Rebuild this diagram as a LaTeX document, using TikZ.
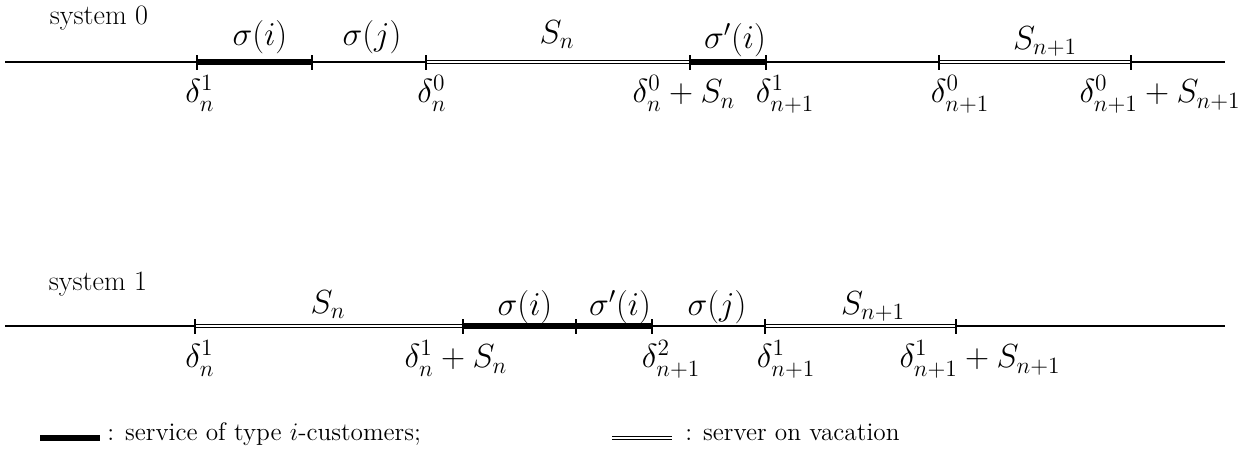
\RequirePackage{fix-cm}
\documentclass[tikz,border=0pt]{standalone}
\begin{document}
\begin{tikzpicture}[x=0.02cm,y=-0.02cm,
  every node/.style={font=\Large, inner sep=0pt},
  m/.style={font=\fontsize{19}{22}\selectfont},
  sysname/.style={font=\fontsize{16}{19}\selectfont},
  axis/.style={line width=0.8pt},
  busy/.style={line width=3pt},
  vac/.style={double, double distance=1.4pt, line width=0.5pt},
  tickmark/.style={line width=0.9pt},
  lab/.style={m, anchor=base}]
\useasboundingbox (0,0) rectangle (1245,455);

% ---------- system 0 ----------
\node[sysname] (sys0) at (99,18) {system 0};
\coordinate (L0) at (5,62);
\coordinate (R0) at (1225,62);
\coordinate (a1) at (197,62);
\coordinate (a2) at (312,62);
\coordinate (a3) at (426,62);
\coordinate (a4) at (690,62);
\coordinate (a5) at (766,62);
\coordinate (a6) at (939,62);
\coordinate (a7) at (1131,62);
\draw[axis] (L0) -- (R0);
\draw[busy] (a1) -- (a2);
\draw[busy] (a4) -- (a5);
\draw[vac] (a3) -- (a4);
\draw[vac] (a6) -- (a7);
\foreach \p in {a1,a2,a3,a4,a5,a6,a7}
  \draw[tickmark] ([yshift=0.13cm]\p) -- ([yshift=-0.16cm]\p);

\node[m] (t1) at (260,37) {$\sigma(i)$};
\node[m] (t2) at (372,37) {$\sigma(j)$};
\node[m] (t3) at (557,35) {$S_n$};
\node[m] (t4) at (735,40) {$\sigma'(i)$};
\node[m] (t5) at (1045,41) {$S_{n+1}$};

\node[lab] (b1) at (200,103) {$\delta_n^1$};
\node[lab] (b2) at (432,103) {$\delta_n^0$};
\node[lab] (b3) at (684,103) {$\delta_n^0+S_n$};
\node[lab] (b4) at (785,103) {$\delta_{n+1}^1$};
\node[lab] (b5) at (960,103) {$\delta_{n+1}^0$};
\node[lab] (b6) at (1160,103) {$\delta_{n+1}^0+S_{n+1}$};

% ---------- system 1 ----------
\node[sysname] (sys1) at (98,284) {system 1};
\coordinate (L1) at (5,326);
\coordinate (R1) at (1225,326);
\coordinate (c1) at (195,326);
\coordinate (c2) at (463,326);
\coordinate (c3) at (576,326);
\coordinate (c4) at (652,326);
\coordinate (c5) at (765,326);
\coordinate (c6) at (956,326);
\draw[axis] (L1) -- (R1);
\draw[vac] (c1) -- (c2);
\draw[busy] (c2) -- (c4);
\draw[vac] (c5) -- (c6);
\foreach \p in {c1,c2,c3,c4,c5,c6}
  \draw[tickmark] ([yshift=0.13cm]\p) -- ([yshift=-0.16cm]\p);

\node[m] (u1) at (328,305) {$S_n$};
\node[m] (u2) at (525,307) {$\sigma(i)$};
\node[m] (u3) at (620,307) {$\sigma'(i)$};
\node[m] (u4) at (717,307) {$\sigma(j)$};
\node[m] (u5) at (873,306) {$S_{n+1}$};

\node[lab] (d1) at (200,368) {$\delta_n^1$};
\node[lab] (d2) at (456,368) {$\delta_n^1+S_n$};
\node[lab] (d3) at (671,368) {$\delta_{n+1}^2$};
\node[lab] (d4) at (786,368) {$\delta_{n+1}^1$};
\node[lab] (d5) at (980,368) {$\delta_{n+1}^1+S_{n+1}$};

% ---------- legend ----------
\coordinate (k1) at (40,438);
\coordinate (k2) at (100,438);
\draw[line width=3.4pt] (k1) -- (k2);
\node[anchor=base west] (k3) at (107,441) {: service of type $i$-customers;};
\coordinate (k4) at (612,438);
\coordinate (k5) at (672,438);
\draw[vac] (k4) -- (k5);
\node[anchor=base west] (k6) at (685,441) {: server on vacation};
\end{tikzpicture}
\end{document}
